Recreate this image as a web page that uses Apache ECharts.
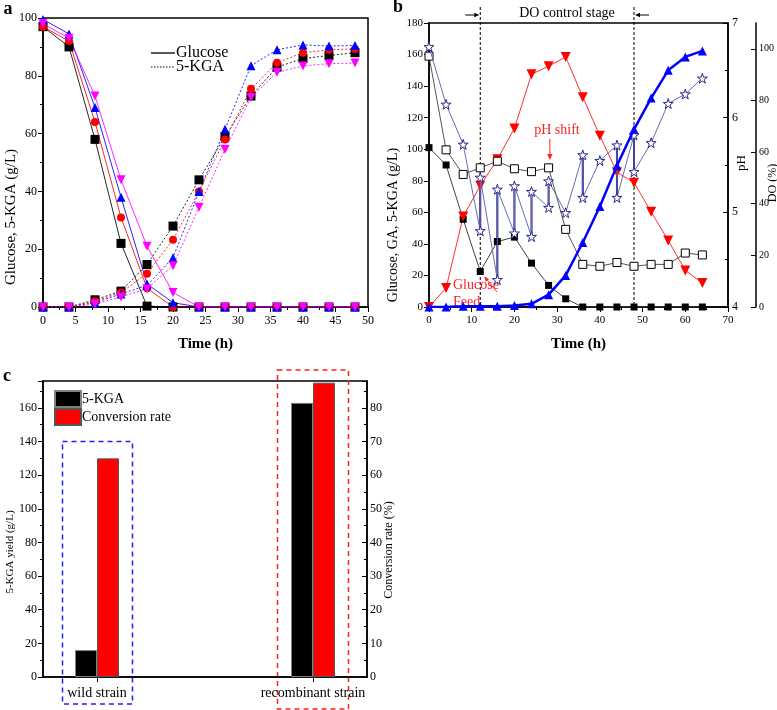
<!DOCTYPE html>
<html><head><meta charset="utf-8">
<script src="https://cdn.jsdelivr.net/npm/echarts@6/dist/echarts.min.js"></script>
<style>html,body{margin:0;padding:0;background:#fff}#c{width:777px;height:710px}</style>
</head><body><div id="c"></div>
<script>
// ---------- Panel a data ----------
const timeA = [0,4,8,12,16,20,24,28,32,36,40,44,48];
const glucoseA_black   = [97,90,58,22,0.3,0,0,0,0,0,0,0,0];
const glucoseA_red     = [97,92,64,31,6.5,0,0,0,0,0,0,0,0];
const glucoseA_blue    = [99.5,94.5,69,38,8,1.5,0,0,0,0,0,0,0];
const glucoseA_magenta = [98,93,73,44,21,5,0,0,0,0,0,0,0];
const kgaA_black   = [0,0,2.5,5.5,14.7,28,44,59,73,83,86,87,88];
const kgaA_red     = [0,0,2,5,11.5,23.3,40,58,75.5,84.5,88,89,89.3];
const kgaA_blue    = [0,0,1.5,4.5,7.5,17,40,61.5,83.5,89,90.7,90.3,90.5];
const kgaA_magenta = [0,0,1,3.5,6.3,14.3,34.5,54.5,72.5,81.2,83.4,84.2,84.4];

// ---------- Panel b data ----------
const timeB = [0,4,8,12,16,20,24,28,32,36,40,44,48,52,56,60,64];
const glucoseB = [101,90,55.6,22.5,41.5,44.3,27.8,13.7,5.2,0,0,0,0,0,0,0,0];
const gaB      = [0,12,57.3,76.9,93.6,113.2,147.5,152.6,158.5,133,108.6,85.4,78.8,60.3,42.2,23.2,15.2];
const kgaB     = [0,0,0.5,0.5,0.5,1,2,7.8,20,40.9,63.7,89.6,112.6,132.4,150,158.5,162.3];
const phB      = [6.65,5.66,5.40,5.47,5.54,5.46,5.43,5.47,4.82,4.45,4.43,4.47,4.43,4.45,4.45,4.57,4.55];
const doTime   = [0,4,8,12,12,16,16,20,20,24,24,28,28,32,36,36,40,44,44,48,48,52,56,60,64];
const doValue  = [100.8,78.5,63,29.5,50.2,10.6,45.6,28.6,46.9,27.3,44.7,38.5,48.8,36.5,58.9,42.4,56.7,62.7,42.4,66.6,52.4,63.6,78.8,82.5,88.6];

// ---------- Panel c data ----------
const strainCats = ['wild strain','','recombinant strain'];
const kgaYield = [16,'-',163];
const conversionRate = [65,'-',87.5];

const FONT = 'Liberation Serif';

function mkAxis(o) {
  const a = {
    type: o.type || 'value',
    gridIndex: o.grid,
    position: o.position,
    offset: o.offset || 0,
    axisLine: {show: true, onZero: false, lineStyle: {color: '#000', width: 1.5}},
    axisTick: {show: true, inside: !!o.inside, length: 5, alignWithLabel: !!o.align, lineStyle: {color: '#000', width: 1}},
    minorTick: {show: !!o.minor, splitNumber: o.minor || 5, length: 3, lineStyle: {color: '#000', width: 1}},
    splitLine: {show: false},
    axisLabel: {color: '#000', fontFamily: FONT, fontSize: o.fs || 12, margin: o.margin || 6,
                showMaxLabel: o.showMax === false ? false : null},
  };
  if (o.data) a.data = o.data;
  if (o.min !== undefined) { a.min = o.min; a.max = o.max; a.interval = o.interval; }
  if (o.name) {
    a.name = o.name; a.nameLocation = 'middle'; a.nameGap = o.nameGap;
    a.nameTextStyle = {color: '#000', fontFamily: FONT, fontSize: 15, fontWeight: 'bold'};
  }
  return a;
}

function seriesA(data, color, symbol, rotate, dotted) {
  return {
    type: 'line', xAxisIndex: 0, yAxisIndex: 0,
    data: timeA.map((t, i) => [t, data[i]]),
    symbol: symbol, symbolSize: symbol === 'circle' ? 8 : 9, symbolRotate: rotate,
    itemStyle: {color: color},
    lineStyle: {color: color, width: 1, type: dotted ? [2, 2] : 'solid', opacity: 0.85},
    silent: true, animation: false
  };
}

const STAR = 'path://M50,0 L61,35 L98,35 L68,57 L79,91 L50,70 L21,91 L32,57 L2,35 L39,35 Z';

const series = [
  seriesA(glucoseA_black, '#000000', 'rect', 0, false),
  seriesA(glucoseA_red, '#ff0000', 'circle', 0, false),
  seriesA(glucoseA_blue, '#0000ff', 'triangle', 0, false),
  seriesA(glucoseA_magenta, '#ff00ff', 'triangle', 180, false),
  seriesA(kgaA_black, '#000000', 'rect', 0, true),
  seriesA(kgaA_red, '#ff0000', 'circle', 0, true),
  seriesA(kgaA_blue, '#0000ff', 'triangle', 0, true),
  seriesA(kgaA_magenta, '#ff00ff', 'triangle', 180, true),
];

// Panel b
series.push({
  name: 'b Glucose', type: 'line', xAxisIndex: 1, yAxisIndex: 1,
  data: timeB.map((t, i) => [t, glucoseB[i]]),
  symbol: 'rect', symbolSize: 7, itemStyle: {color: '#000'},
  lineStyle: {color: '#444', width: 1}, z: 3, animation: false
});
series.push({
  name: 'b GA', type: 'line', xAxisIndex: 1, yAxisIndex: 1,
  data: timeB.map((t, i) => [t, gaB[i]]),
  symbol: 'triangle', symbolRotate: 180, symbolSize: 10, itemStyle: {color: '#ff0000'},
  lineStyle: {color: '#ff3030', width: 1}, z: 3, animation: false
});
series.push({
  name: 'b pH', type: 'line', xAxisIndex: 1, yAxisIndex: 2,
  data: timeB.map((t, i) => [t, phB[i]]),
  symbol: 'rect', symbolSize: 8, itemStyle: {color: '#fff', borderColor: '#000', borderWidth: 1},
  lineStyle: {color: '#555', width: 1}, z: 3, animation: false
});
// DO vertical (thick) segments where two readings share one time
for (let i = 1; i < doTime.length; i++) {
  if (doTime[i] === doTime[i - 1]) {
    series.push({
      type: 'line', xAxisIndex: 1, yAxisIndex: 3,
      data: [[doTime[i - 1], doValue[i - 1]], [doTime[i], doValue[i]]],
      symbol: 'none', lineStyle: {color: '#1c1c80', width: 2}, z: 3, animation: false, silent: true
    });
  }
}
series.push({
  name: 'b DO', type: 'line', xAxisIndex: 1, yAxisIndex: 3,
  data: doTime.map((t, i) => [t, doValue[i]]),
  symbol: STAR, symbolSize: 10, itemStyle: {color: '#fff', borderColor: '#2a2a8c', borderWidth: 1},
  lineStyle: {color: '#6a6ab4', width: 1}, z: 4, animation: false
});
series.push({
  name: 'b 5-KGA', type: 'line', xAxisIndex: 1, yAxisIndex: 1,
  data: timeB.map((t, i) => [t, kgaB[i]]),
  symbol: 'triangle', symbolSize: 9, itemStyle: {color: '#0000ff'},
  lineStyle: {color: '#0000ff', width: 2.5}, z: 5, animation: false
});

// Panel c
series.push({
  name: '5-KGA', type: 'bar', xAxisIndex: 2, yAxisIndex: 4, data: kgaYield,
  barWidth: 22, barGap: '0%', itemStyle: {color: '#000', borderColor: '#808080', borderWidth: 1}, animation: false
});
series.push({
  name: 'Conversion rate', type: 'bar', xAxisIndex: 2, yAxisIndex: 5, data: conversionRate,
  barWidth: 22, barGap: '0%', itemStyle: {color: '#ff0000', borderColor: '#555', borderWidth: 1}, animation: false
});

const option = {
  backgroundColor: '#fff',
  animation: false,
  textStyle: {fontFamily: FONT},
  grid: [
    {left: 43, top: 18, width: 325, height: 289, show: true, borderColor: '#000', borderWidth: 1.5, containLabel: false},
    {left: 429, top: 23, width: 299, height: 284, show: true, borderColor: '#000', borderWidth: 1.5, containLabel: false},
    {left: 43, top: 381, width: 324, height: 296, show: true, borderColor: '#000', borderWidth: 1.5, containLabel: false}
  ],
  xAxis: [
    mkAxis({grid: 0, min: 0, max: 50, interval: 5, minor: 2, name: 'Time (h)', nameGap: 30, margin: 8}),
    mkAxis({grid: 1, min: 0, max: 70, interval: 10, minor: 2, name: 'Time (h)', nameGap: 30, fs: 11, margin: 8}),
    mkAxis({grid: 2, type: 'category', data: strainCats, align: true, fs: 14, margin: 9})
  ],
  yAxis: [
    mkAxis({grid: 0, min: 0, max: 100, interval: 20, minor: 2}),
    mkAxis({grid: 1, min: 0, max: 180, interval: 20, position: 'left', fs: 11}),
    mkAxis({grid: 1, min: 4, max: 7, interval: 1, minor: 2, position: 'right', inside: true, fs: 12, margin: 4}),
    mkAxis({grid: 1, min: 0, max: 110, interval: 20, position: 'right', offset: 28, inside: true, fs: 10, margin: 3, showMax: false}),
    mkAxis({grid: 2, min: 0, max: 176, interval: 20, minor: 2, position: 'left', fs: 12, showMax: false}),
    mkAxis({grid: 2, min: 0, max: 88, interval: 10, minor: 2, position: 'right', inside: true, fs: 12, margin: 3, showMax: false})
  ],
  legend: [{
    data: ['5-KGA', 'Conversion rate'], left: 49, top: 385, orient: 'vertical',
    itemWidth: 26, itemHeight: 16, itemGap: 0, icon: 'rect', selectedMode: false,
    textStyle: {fontFamily: FONT, fontSize: 14, color: '#000', padding: [0, 0, 0, -4]}
  }],
  series: series
};

const chart = echarts.init(document.getElementById('c'));
chart.setOption(option);

// ---------- annotations ----------
const pB = (x, y) => chart.convertToPixel({xAxisIndex: 1, yAxisIndex: 1}, [x, y]);
const pC = (c, y) => chart.convertToPixel({xAxisIndex: 2, yAxisIndex: 4}, [c, y]);

function txt(x, y, s, size, color, opts) {
  return Object.assign({
    type: 'text', x: x, y: y, silent: true,
    style: Object.assign({text: s, fontFamily: FONT, fontSize: size, fill: color || '#000', align: 'center', verticalAlign: 'middle'}, (opts && opts.style) || {})
  }, opts && opts.rotation ? {rotation: opts.rotation} : {});
}
function line(x1, y1, x2, y2, color, width, dash) {
  return {type: 'line', silent: true, shape: {x1, y1, x2, y2},
    style: {stroke: color, lineWidth: width || 1, lineDash: dash || null}};
}
function arrow(x1, y1, x2, y2, color, head) {
  const ang = Math.atan2(y2 - y1, x2 - x1), h = head || 6, w = h * 0.45;
  const bx = x2 - h * Math.cos(ang), by = y2 - h * Math.sin(ang);
  return [
    line(x1, y1, bx, by, color, 1),
    {type: 'polygon', silent: true, shape: {points: [[x2, y2],
      [bx + w * Math.sin(ang), by - w * Math.cos(ang)], [bx - w * Math.sin(ang), by + w * Math.cos(ang)]]},
      style: {fill: color}}
  ];
}

const x12 = pB(12, 0)[0], x48 = pB(48, 0)[0], yb0 = pB(0, 0)[1];
const x28 = pB(28.3, 0)[0];
const feedPt = pB(12, glucoseB[3]);
const wildX = pC(0, 0)[0], recX = pC(2, 0)[0];
const blueTop = pC(0, 140)[1];
const R90 = Math.PI / 2;

const graphics = [
  // panel letters
  txt(8, 9, 'a', 18, '#000', {style: {fontWeight: 'bold'}}),
  txt(398, 7, 'b', 18, '#000', {style: {fontWeight: 'bold'}}),
  txt(7, 376, 'c', 18, '#000', {style: {fontWeight: 'bold'}}),
  // panel a y title & legend
  txt(11, 217, 'Glucose, 5-KGA (g/L)', 15, '#000', {rotation: R90}),
  line(151, 53, 175, 53, '#000', 1.3),
  line(151, 67, 175, 67, '#555', 1.3, [1.5, 1.5]),
  txt(176, 53, 'Glucose', 16, '#000', {style: {align: 'left'}}),
  txt(176, 67, '5-KGA', 16, '#000', {style: {align: 'left'}}),
  // panel b titles
  txt(393, 225, 'Glucose, GA, 5-KGA (g/L)', 14, '#000', {rotation: R90}),
  txt(742, 163, 'pH', 13, '#000', {rotation: R90}),
  txt(773, 183, 'DO (%)', 12, '#000', {rotation: R90}),
  // DO control stage
  line(x12, 7, x12, yb0, '#000', 1, [3, 2]),
  line(x48, 7, x48, yb0, '#000', 1, [3, 2]),
  txt(567, 13, 'DO control stage', 14),
  ...arrow(x12 - 15, 15, x12 - 1, 15, '#000', 5),
  ...arrow(x48 + 15, 15, x48 + 1, 15, '#000', 5),
  // pH shift
  txt(557, 130, 'pH shift', 14, '#ff2020'),
  ...arrow(x28, 139, x28, 160, '#ff2020', 6),
  // Glucose Feed
  txt(453, 285, 'Glucose', 14, '#ff2020', {style: {align: 'left'}}),
  txt(453, 302, 'Feed', 14, '#ff2020', {style: {align: 'left'}}),
  ...arrow(497, 292, feedPt[0] + 4, feedPt[1] + 5, '#ff2020', 5),
  // panel c titles
  txt(10, 552, '5-KGA yield (g/L)', 11, '#000', {rotation: R90}),
  txt(389, 550, 'Conversion rate (%)', 12, '#000', {rotation: R90}),
  // dashed boxes
  {type: 'rect', silent: true, shape: {x: wildX - 34.5, y: blueTop, width: 70, height: 704 - blueTop},
   style: {fill: null, stroke: '#2020ff', lineWidth: 1.5, lineDash: [5, 4]}},
  {type: 'rect', silent: true, shape: {x: recX - 35.5, y: 370, width: 71, height: 339},
   style: {fill: null, stroke: '#ff2020', lineWidth: 1.5, lineDash: [5, 4]}}
];
chart.setOption({graphic: graphics});
</script>
</body></html>
